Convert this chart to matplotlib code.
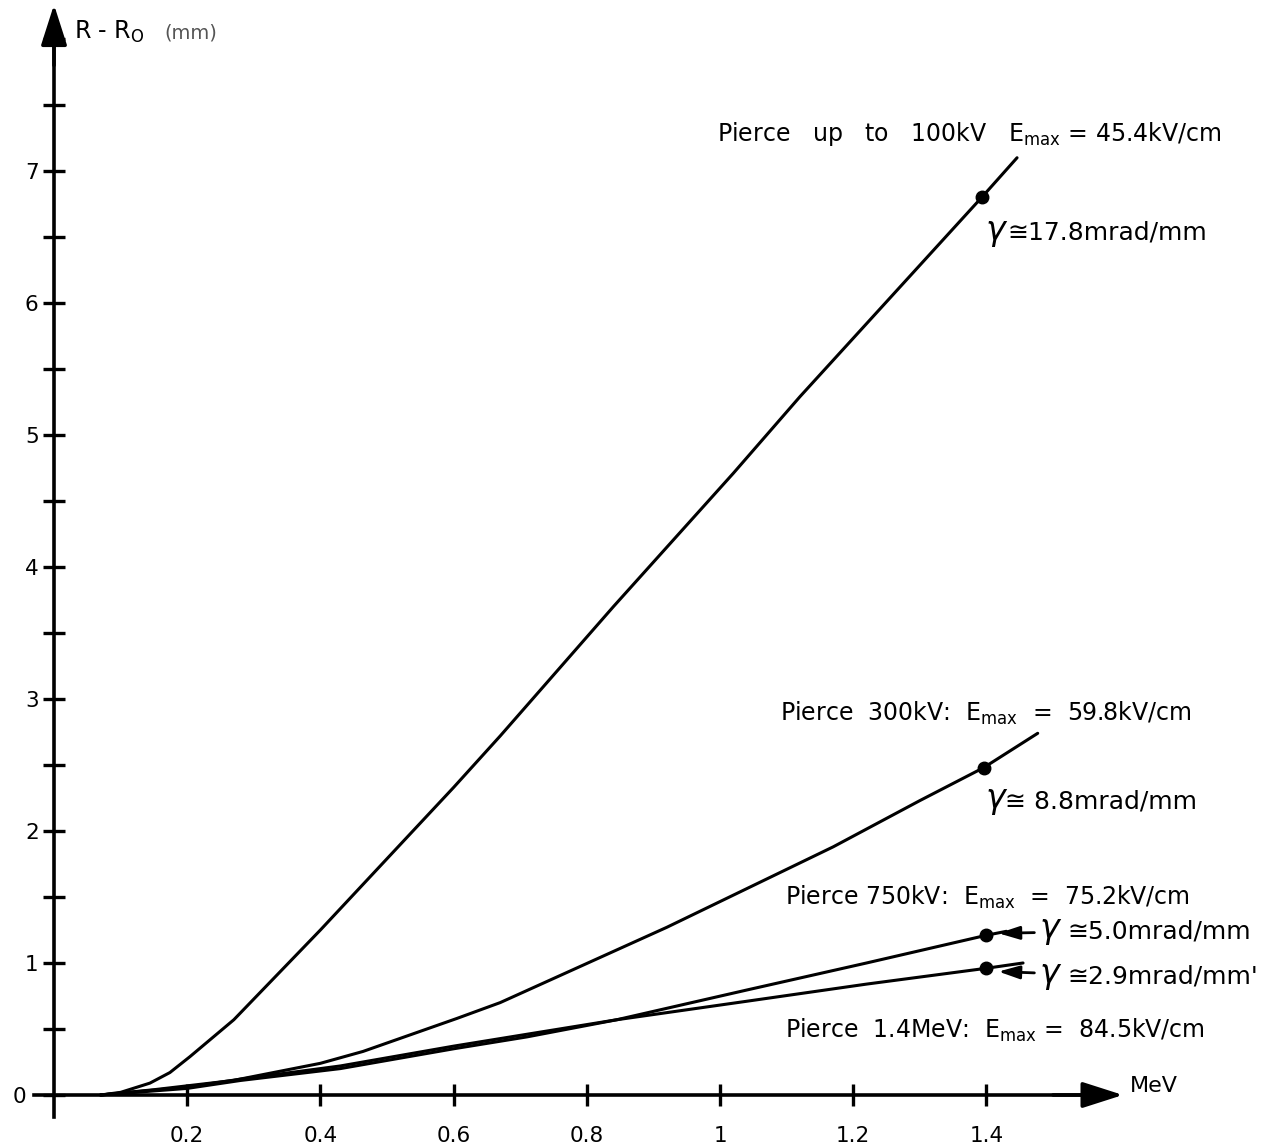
import matplotlib
matplotlib.use('Agg')
import matplotlib.pyplot as plt
from matplotlib.ticker import MultipleLocator
import matplotlib.transforms as mtransforms

# beam radius growth R - R0 (mm) against energy (MeV)
energy_100kv = [0.07, 0.10, 0.144, 0.174, 0.204, 0.27, 0.40, 0.60, 0.67, 0.84, 1.02, 1.12, 1.393, 1.446]
r_100kv = [0.0, 0.02, 0.09, 0.17, 0.29, 0.57, 1.25, 2.33, 2.72, 3.70, 4.71, 5.29, 6.80, 7.10]

energy_300kv = [0.07, 0.15, 0.269, 0.40, 0.464, 0.605, 0.67, 0.92, 1.17, 1.30, 1.396, 1.477]
r_300kv = [0.0, 0.04, 0.11, 0.24, 0.33, 0.58, 0.70, 1.27, 1.88, 2.23, 2.48, 2.74]

energy_750kv = [0.07, 0.20, 0.28, 0.43, 0.60, 0.71, 0.845, 1.04, 1.22, 1.40, 1.43]
r_750kv = [0.0, 0.05, 0.11, 0.20, 0.35, 0.44, 0.57, 0.795, 1.00, 1.21, 1.24]

energy_1400kv = [0.07, 0.20, 0.28, 0.43, 0.60, 0.71, 0.845, 1.04, 1.22, 1.40, 1.455]
r_1400kv = [0.0, 0.06, 0.12, 0.22, 0.37, 0.46, 0.57, 0.71, 0.84, 0.96, 1.00]

dot_energy = [1.393, 1.396, 1.40, 1.40]
dot_r = [6.80, 2.48, 1.21, 0.96]

x_ticks = [0.2, 0.4, 0.6, 0.8, 1.0, 1.2, 1.4]
x_tick_labels = ['0.2', '0.4', '0.6', '0.8', '1', '1.2', '1.4']
y_ticks = [0, 1, 2, 3, 4, 5, 6, 7]

fig = plt.figure(figsize=(12.72, 11.47), dpi=100)
ax = fig.add_axes([0, 0, 1, 1])
ax.set_xlim(-0.0811, 1.8288)
ax.set_ylim(-0.394, 8.295)

lw = 2.2
for xs, ys in [(energy_100kv, r_100kv), (energy_300kv, r_300kv),
               (energy_750kv, r_750kv), (energy_1400kv, r_1400kv)]:
    ax.plot(xs, ys, color='black', lw=lw, solid_capstyle='round')
ax.plot(dot_energy, dot_r, 'o', color='black', ms=9)

# axes drawn as spines through the origin
for side in ['top', 'right']:
    ax.spines[side].set_visible(False)
ax.spines['left'].set_position(('data', 0))
ax.spines['bottom'].set_position(('data', 0))
ax.spines['left'].set_bounds(-0.17, 8.0)
ax.spines['bottom'].set_bounds(-0.03, 1.56)
ax.spines['left'].set_linewidth(2.6)
ax.spines['bottom'].set_linewidth(2.6)

arrow = dict(arrowstyle='-|>,head_length=1.25,head_width=0.4', lw=2.6,
             color='black', mutation_scale=20, shrinkA=0, shrinkB=0)
ax.annotate('', xy=(0, 8.26), xytext=(0, 7.8), arrowprops=arrow)
ax.annotate('', xy=(1.605, 0), xytext=(1.5, 0), arrowprops=arrow)

ax.set_xticks(x_ticks)
ax.set_xticklabels(x_tick_labels)
ax.set_yticks(y_ticks)
ax.yaxis.set_minor_locator(MultipleLocator(0.5))
ax.tick_params(axis='both', which='both', direction='inout', width=2.4,
               length=16, labelsize=15.5)
ax.tick_params(axis='x', pad=14)
ax.tick_params(axis='y', pad=3)
ax.tick_params(axis='y', which='minor', length=16)

# shift the "0" label further left, as in the original
zero_label = ax.get_yticklabels()[0]
zero_label.set_transform(zero_label.get_transform() +
                         mtransforms.ScaledTranslation(-0.12, 0, fig.dpi_scale_trans))

ax.text(0.03, 8.0, r'R - R$_{\rm O}$', fontsize=17, va='baseline')
ax.text(0.165, 8.0, '(mm)', fontsize=14, color='#555555', va='baseline')
ax.text(1.615, 0.02, 'MeV', fontsize=16, va='baseline')

fs = 17
gs = 18
ax.text(0.995, 7.227, r'Pierce   up   to   100kV   E$_{\rm max}$ = 45.4kV/cm', fontsize=fs, va='baseline')
ax.text(1.398, 6.477, 'γ', fontsize=24, style='italic', va='baseline')
ax.text(1.432, 6.477, '≅17.8mrad/mm', fontsize=gs, va='baseline')

ax.text(1.090, 2.833, r'Pierce  300kV:  E$_{\rm max}$  =  59.8kV/cm', fontsize=fs, va='baseline')
ax.text(1.398, 2.174, 'γ', fontsize=24, style='italic', va='baseline')
ax.text(1.428, 2.174, '≅ 8.8mrad/mm', fontsize=gs, va='baseline')

ax.text(1.098, 1.439, r'Pierce 750kV:  E$_{\rm max}$  =  75.2kV/cm', fontsize=fs, va='baseline')
ax.text(1.48, 1.189, 'γ', fontsize=24, style='italic', va='baseline')
ax.text(1.522, 1.189, '≅5.0mrad/mm', fontsize=gs, va='baseline')
ax.text(1.48, 0.848, 'γ', fontsize=24, style='italic', va='baseline')
ax.text(1.522, 0.848, "≅2.9mrad/mm'", fontsize=gs, va='baseline')
ax.text(1.098, 0.432, r'Pierce  1.4MeV:  E$_{\rm max}$ =  84.5kV/cm', fontsize=fs, va='baseline')

pointer = dict(arrowstyle='-|>,head_length=0.8,head_width=0.25', lw=2.0,
               color='black', mutation_scale=16, shrinkA=0, shrinkB=0)
ax.annotate('', xy=(1.418, 1.225), xytext=(1.472, 1.23), arrowprops=pointer)
ax.annotate('', xy=(1.418, 0.935), xytext=(1.472, 0.925), arrowprops=pointer)

fig.savefig('out.png', dpi=100)
